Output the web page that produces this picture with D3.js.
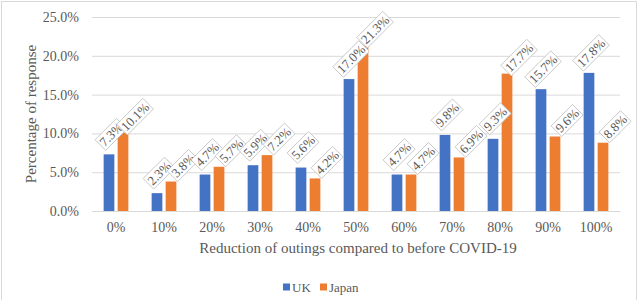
<!DOCTYPE html>
<html>
<head>
<meta charset="utf-8">
<script src="https://cdn.jsdelivr.net/npm/d3@7"></script>
<style>
  html, body { margin: 0; padding: 0; background: #fff; }
  svg { display: block; }
  text { font-family: "Liberation Serif", "Times New Roman", serif; fill: #595959; }
</style>
</head>
<body>
<script>
const categories = ["0%", "10%", "20%", "30%", "40%", "50%", "60%", "70%", "80%", "90%", "100%"];
const seriesNames = ["UK", "Japan"];
const ukValues = [7.3, 2.3, 4.7, 5.9, 5.6, 17.0, 4.7, 9.8, 9.3, 15.7, 17.8];
const japanValues = [10.1, 3.8, 5.7, 7.2, 4.2, 21.3, 4.7, 6.9, 17.7, 9.6, 8.8];
const yTicks = [0, 5, 10, 15, 20, 25];
const colors = ["#4472C4", "#ED7D31"];
const xTitle = "Reduction of outings compared to before COVID-19";
const yTitle = "Percentage of response";

const W = 643, H = 300;
const svg = d3.select("body").append("svg").attr("width", W).attr("height", H);

// chart border
svg.append("rect").attr("x", 1.5).attr("y", 1.5).attr("width", 635).attr("height", 300)
  .attr("fill", "none").attr("stroke", "#d9d9d9").attr("stroke-width", 1);

const pLeft = 92, pRight = 620, pTop = 17, pBottom = 211;

const x0 = d3.scaleBand().domain(categories).range([pLeft, pRight])
  .paddingInner(0.485).paddingOuter(0.2425);
const x1 = d3.scaleBand().domain(seriesNames).range([0, x0.bandwidth()]).paddingInner(0.236);
const y = d3.scaleLinear().domain([0, 25]).range([pBottom, pTop]);
const color = d3.scaleOrdinal().domain(seriesNames).range(colors);

// gridlines
const yAxis = d3.axisLeft(y).tickValues(yTicks).tickSize(-(pRight - pLeft)).tickPadding(13)
  .tickFormat(d => d.toFixed(1) + "%");
const gy = svg.append("g").attr("transform", `translate(${pLeft},0)`).call(yAxis);
gy.select(".domain").remove();
gy.selectAll(".tick line").attr("stroke", "#d9d9d9").attr("stroke-width", 1);
gy.selectAll(".tick text").attr("font-size", 14).style("fill", "#595959")
  .style("font-family", "'Liberation Serif', serif");

// x axis
const xAxis = d3.axisBottom(x0).tickSize(0).tickPadding(11);
const gx = svg.append("g").attr("transform", `translate(0,${pBottom})`).call(xAxis);
gx.select(".domain").attr("stroke", "#d9d9d9");
gx.selectAll(".tick text").attr("font-size", 14).style("fill", "#595959")
  .style("font-family", "'Liberation Serif', serif");

const rows = categories.map((c, i) => ({ cat: c, vals: [
  { s: "UK", v: ukValues[i] }, { s: "Japan", v: japanValues[i] } ] }));

const groups = svg.append("g").selectAll("g").data(rows).join("g")
  .attr("transform", d => `translate(${x0(d.cat)},0)`);

groups.selectAll("rect").data(d => d.vals).join("rect")
  .attr("x", d => x1(d.s))
  .attr("y", d => y(d.v))
  .attr("width", x1.bandwidth())
  .attr("height", d => pBottom - y(d.v))
  .attr("fill", d => color(d.s));

// data labels (rotated -45, boxed)
const labelOffset = { UK: [2, -20], Japan: [12, -16] };
const labG = svg.append("g");
rows.forEach(r => {
  r.vals.forEach(d => {
    const cx = x0(r.cat) + x1(d.s) + x1.bandwidth() / 2 + labelOffset[d.s][0];
    const cy = y(d.v) + labelOffset[d.s][1];
    const g = labG.append("g").attr("transform", `translate(${cx},${cy}) rotate(-45)`);
    const t = g.append("text").attr("text-anchor", "middle").attr("dy", "0.35em")
      .attr("font-size", 13).text(d.v.toFixed(1) + "%");
    const bb = t.node().getBBox();
    g.insert("rect", "text").attr("x", bb.x - 1.5).attr("y", bb.y)
      .attr("width", bb.width + 3).attr("height", bb.height)
      .attr("fill", "#fff").attr("stroke", "#bfbfbf").attr("stroke-width", 0.8);
  });
});

// axis titles
svg.append("text").attr("x", (pLeft + pRight) / 2 + 2).attr("y", 253)
  .attr("text-anchor", "middle").attr("font-size", 15).text(xTitle);
svg.append("text").attr("transform", `translate(36,${(pTop + pBottom) / 2}) rotate(-90)`)
  .attr("text-anchor", "middle").attr("font-size", 15).text(yTitle);

// legend
const legend = svg.append("g");
const legX = [283, 320];
seriesNames.forEach((s, i) => {
  legend.append("rect").attr("x", legX[i]).attr("y", 283.5).attr("width", 7).attr("height", 7)
    .attr("fill", colors[i]);
  legend.append("text").attr("x", legX[i] + 9).attr("y", 291.5).attr("font-size", 13).text(s);
});
</script>
</body>
</html>
